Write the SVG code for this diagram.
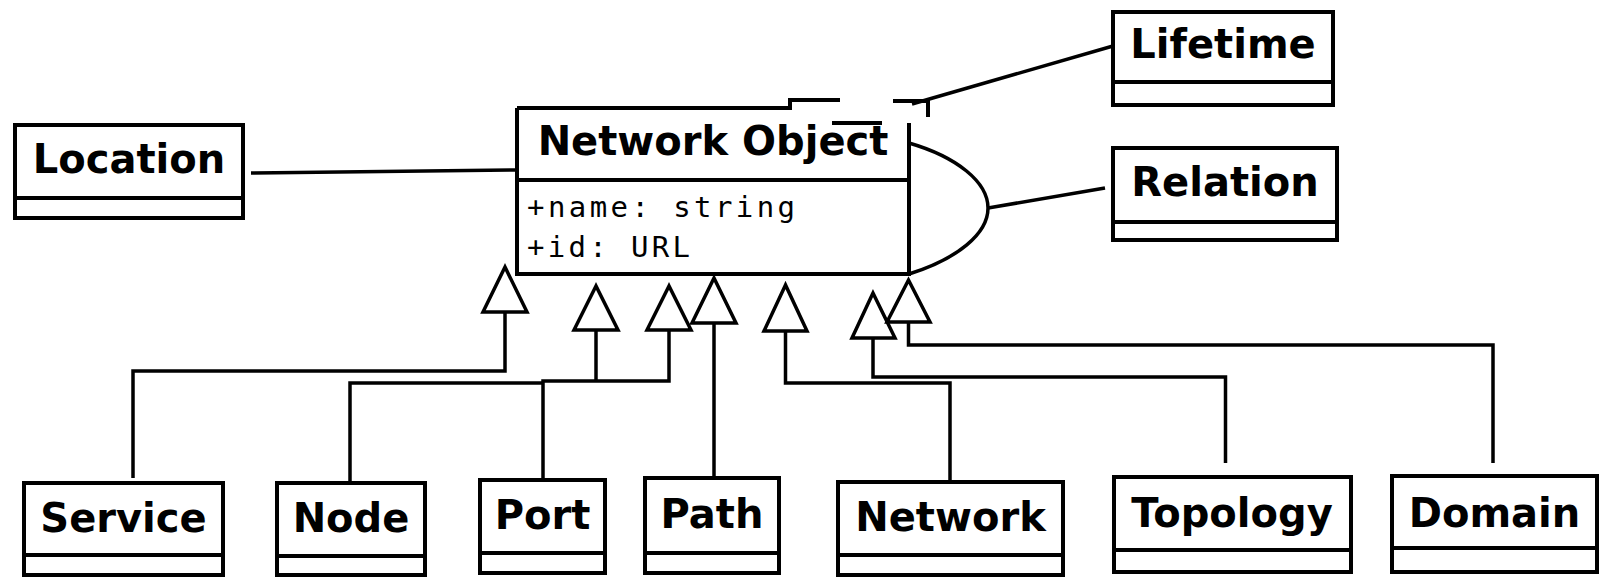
<svg xmlns="http://www.w3.org/2000/svg" width="1603" height="577" viewBox="0 0 1603 577">
<style>
.box{fill:#fff;stroke:#000;stroke-width:4}
.div{stroke:#000;stroke-width:4;fill:none}
.ln{stroke:#000;stroke-width:3.5;fill:none;stroke-linejoin:miter}
.tri{fill:#fff;stroke:#000;stroke-width:3.5;stroke-linejoin:miter}
.t{font-family:"DejaVu Sans",Verdana,sans-serif;font-weight:bold;font-size:40px;text-anchor:middle;fill:#000}
.m{font-family:"DejaVu Sans Mono","Liberation Mono",monospace;font-size:29px;fill:#000}
</style>
<rect width="1603" height="577" fill="#fff"/>
<g id="connectors">
  <path class="ln" d="M251,173 L517,170"/>
  <path class="ln" d="M912,104 L1113,46"/>
  <path class="ln" d="M909,143 C957,157 988,182 988,208 C988,234 957,259 909,274"/>
  <path class="ln" d="M988,208 L1105,188"/>
  <path class="ln" d="M133,478 V371 H505 V312"/>
  <path class="ln" d="M350,481 V383 H543"/>
  <path class="ln" d="M543,478 V381 H669 V330"/>
  <path class="ln" d="M596,330 V381"/>
  <path class="ln" d="M714,478 V323"/>
  <path class="ln" d="M950,481 V383 H785.5 V331"/>
  <path class="ln" d="M1225.5,463 V377 H873 V338"/>
  <path class="ln" d="M1493,463 V345 H908.5 V322"/>
  <polygon class="tri" points="505,267 483,312 527,312"/>
  <polygon class="tri" points="596,286 574,330 618,330"/>
  <polygon class="tri" points="669,286 647,330 691,330"/>
  <polygon class="tri" points="714,278 692,323 736,323"/>
  <polygon class="tri" points="785.5,285 764,331 807,331"/>
  <polygon class="tri" points="873,293 852,338 895,338"/>
  <polygon class="tri" points="908.5,280 887,322 930,322"/>
</g>
<g id="network-object">
  <path class="div" d="M517,108 V274 H909 V123"/>
  <path class="div" d="M517,108 H790 V100 H840"/>
  <path class="div" d="M893,101 H930 M928,101 V117"/>
  <path class="div" d="M832,123 H882"/>
  <path class="div" d="M517,180 H909"/>
  <text class="t" x="713" y="155">Network Object</text>
  <text class="m" x="527" y="217" textLength="268" lengthAdjust="spacing">+name: string</text>
  <text class="m" x="527" y="257" textLength="163" lengthAdjust="spacing">+id: URL</text>
</g>
<g id="location">
  <rect class="box" x="15" y="125" width="228" height="93"/>
  <path class="div" d="M15,198 H243"/>
  <text class="t" x="129" y="173">Location</text>
</g>
<g id="lifetime">
  <rect class="box" x="1113" y="12" width="220" height="93"/>
  <path class="div" d="M1113,82 H1333"/>
  <text class="t" x="1223" y="58">Lifetime</text>
</g>
<g id="relation">
  <rect class="box" x="1113" y="148" width="224" height="92"/>
  <path class="div" d="M1113,222 H1337"/>
  <text class="t" x="1225" y="196">Relation</text>
</g>
<g id="service">
  <rect class="box" x="24" y="483" width="199" height="92"/>
  <path class="div" d="M24,555 H223"/>
  <text class="t" x="123.5" y="532">Service</text>
</g>
<g id="node">
  <rect class="box" x="277" y="483" width="148" height="92"/>
  <path class="div" d="M277,556 H425"/>
  <text class="t" x="351" y="532">Node</text>
</g>
<g id="port">
  <rect class="box" x="480" y="480" width="125" height="93"/>
  <path class="div" d="M480,553 H605"/>
  <text class="t" x="542.5" y="529">Port</text>
</g>
<g id="path">
  <rect class="box" x="645" y="478" width="134" height="95"/>
  <path class="div" d="M645,553 H779"/>
  <text class="t" x="712" y="528">Path</text>
</g>
<g id="network">
  <rect class="box" x="838" y="482" width="225" height="93"/>
  <path class="div" d="M838,555 H1063"/>
  <text class="t" x="950.5" y="531">Network</text>
</g>
<g id="topology">
  <rect class="box" x="1114" y="477" width="237" height="95"/>
  <path class="div" d="M1114,550 H1351"/>
  <text class="t" x="1232" y="527">Topology</text>
</g>
<g id="domain">
  <rect class="box" x="1392" y="476" width="205" height="96"/>
  <path class="div" d="M1392,548 H1597"/>
  <text class="t" x="1494.5" y="527">Domain</text>
</g>
</svg>
